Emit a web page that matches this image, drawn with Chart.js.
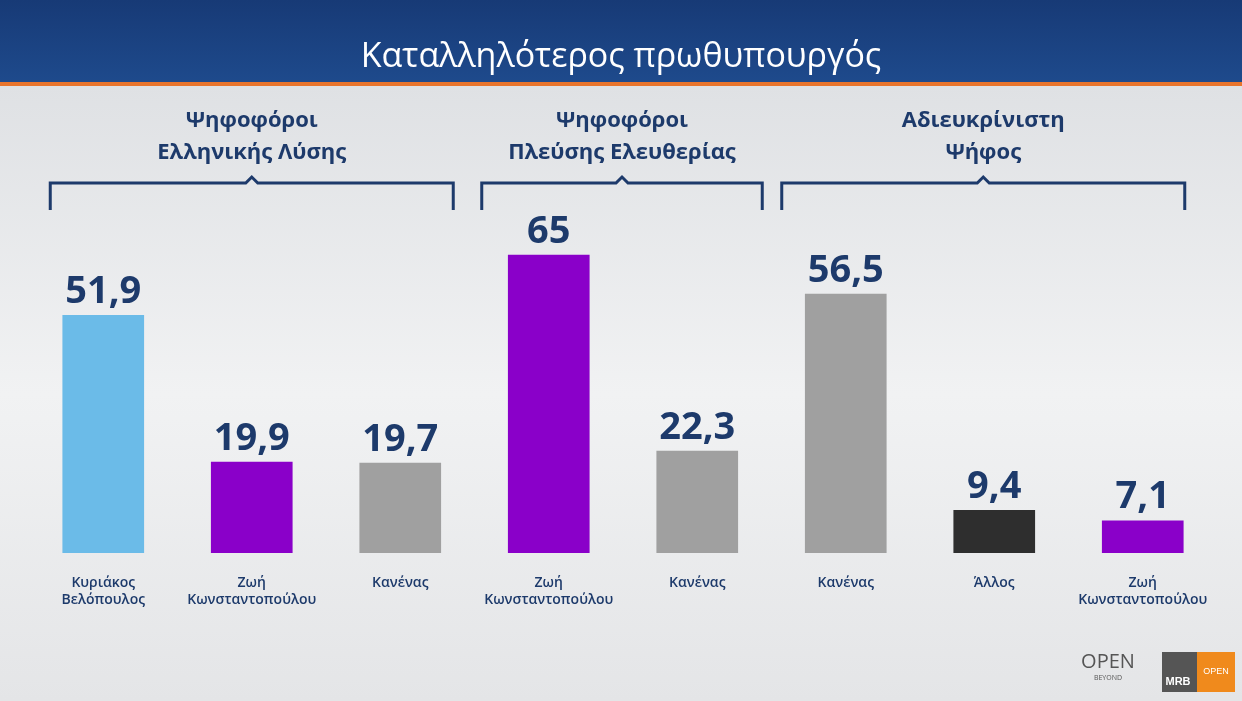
<!DOCTYPE html>
<html><head><meta charset="utf-8">
<script src="https://cdn.jsdelivr.net/npm/chart.js@4"></script>
<style>html,body{margin:0;padding:0;overflow:hidden}canvas{display:block}</style>
</head><body>
<div style="width:1242px;height:701px"><canvas id="c"></canvas></div>
<script>
// data
var categories = [['Κυριάκος','Βελόπουλος'],['Ζωή','Κωνσταντοπούλου'],'Κανένας',['Ζωή','Κωνσταντοπούλου'],'Κανένας','Κανένας','Άλλος',['Ζωή','Κωνσταντοπούλου']];
var values = [51.9, 19.9, 19.7, 65, 22.3, 56.5, 9.4, 7.1];
var barColors = ['#6bbbe8','#8a00c9','#a0a0a0','#8a00c9','#a0a0a0','#a0a0a0','#2e2e2e','#8a00c9'];
var groupTitles = [['Ψηφοφόροι','Ελληνικής Λύσης'],['Ψηφοφόροι','Πλεύσης Ελευθερίας'],['Αδιευκρίνιστη','Ψήφος']];
var groupRanges = [[0,2],[3,4],[5,7]];
var title = 'Καταλληλότερος πρωθυπουργός';

var navy = '#1d3a6b';
// bracket overhang past first/last bar centre (px), per group
var bracketPad = [[53, 53], [67, 65], [64, 42]];
var decor = {
  id: 'decor',
  beforeDraw: function(chart) {
    var ctx = chart.ctx, W = chart.width, H = chart.height;
    var bg = ctx.createLinearGradient(0, 86, 0, H);
    bg.addColorStop(0, '#dfe1e4'); bg.addColorStop(0.5, '#f1f2f3'); bg.addColorStop(1, '#e4e5e7');
    ctx.fillStyle = bg; ctx.fillRect(0, 0, W, H);
    var tb = ctx.createLinearGradient(0, 0, 0, 82);
    tb.addColorStop(0, '#173a76'); tb.addColorStop(1, '#1e4a8c');
    ctx.fillStyle = tb; ctx.fillRect(0, 0, W, 82);
    ctx.fillStyle = '#e8742c'; ctx.fillRect(0, 82, W, 4);
    ctx.fillStyle = '#fff'; ctx.font = '34px "Open Sans", sans-serif';
    ctx.textAlign = 'center'; ctx.textBaseline = 'middle';
    ctx.fillText(title, W / 2, 57);
  },
  afterDraw: function(chart) {
    var ctx = chart.ctx, x = chart.scales.x, meta = chart.getDatasetMeta(0);
    ctx.save();
    // value labels
    ctx.fillStyle = navy; ctx.font = 'bold 38px "Open Sans", sans-serif';
    ctx.textAlign = 'center'; ctx.textBaseline = 'alphabetic';
    meta.data.forEach(function(b, i) {
      ctx.fillText(String(values[i]).replace('.', ','), b.x, b.y - 12);
    });
    // group headers + brackets
    groupRanges.forEach(function(r, g) {
      var l = x.getPixelForValue(r[0]) - bracketPad[g][0], rr = x.getPixelForValue(r[1]) + bracketPad[g][1];
      var mid = (l + rr) / 2;
      ctx.strokeStyle = navy; ctx.lineWidth = 3;
      ctx.beginPath();
      ctx.moveTo(l, 210); ctx.lineTo(l, 183); ctx.lineTo(mid - 6, 183); ctx.lineTo(mid, 177);
      ctx.lineTo(mid + 6, 183); ctx.lineTo(rr, 183); ctx.lineTo(rr, 210);
      ctx.stroke();
      ctx.fillStyle = navy; ctx.font = 'bold 22px "Open Sans", sans-serif';
      ctx.textBaseline = 'middle';
      ctx.fillText(groupTitles[g][0], mid, 121);
      ctx.fillText(groupTitles[g][1], mid, 153);
    });
    // logos
    ctx.fillStyle = '#555'; ctx.font = '20px "Open Sans", sans-serif';
    ctx.fillText('OPEN', 1108, 662);
    ctx.font = '7px "Open Sans", sans-serif'; ctx.fillText('BEYOND', 1108, 678);
    ctx.fillStyle = '#555'; ctx.fillRect(1162, 652, 36, 40);
    ctx.fillStyle = '#fff'; ctx.font = 'bold 11px sans-serif'; ctx.fillText('MRB', 1178, 682);
    ctx.fillStyle = '#f08a1c'; ctx.fillRect(1197, 652, 38, 40);
    ctx.fillStyle = '#fff'; ctx.font = '9px sans-serif'; ctx.fillText('OPEN', 1216, 672);
    ctx.restore();
  }
};

new Chart(document.getElementById('c'), {
  type: 'bar',
  data: { labels: categories, datasets: [{ data: values, backgroundColor: barColors, barPercentage: 0.55, categoryPercentage: 1 }] },
  options: {
    responsive: true, maintainAspectRatio: false, animation: false,
    layout: { padding: { top: 186, left: 29, right: 25, bottom: 0 } },
    plugins: { legend: { display: false }, tooltip: { enabled: false } },
    scales: {
      y: { display: false, min: 0, max: 80 },
      x: {
        grid: { display: false }, border: { display: false },
        ticks: { color: navy, font: { size: 14, weight: '600', family: '"Open Sans", sans-serif' }, padding: 14, maxRotation: 0, autoSkip: false },
        afterFit: function(s) { s.height = 148; }
      }
    }
  },
  plugins: [decor]
});
</script>
</body></html>
